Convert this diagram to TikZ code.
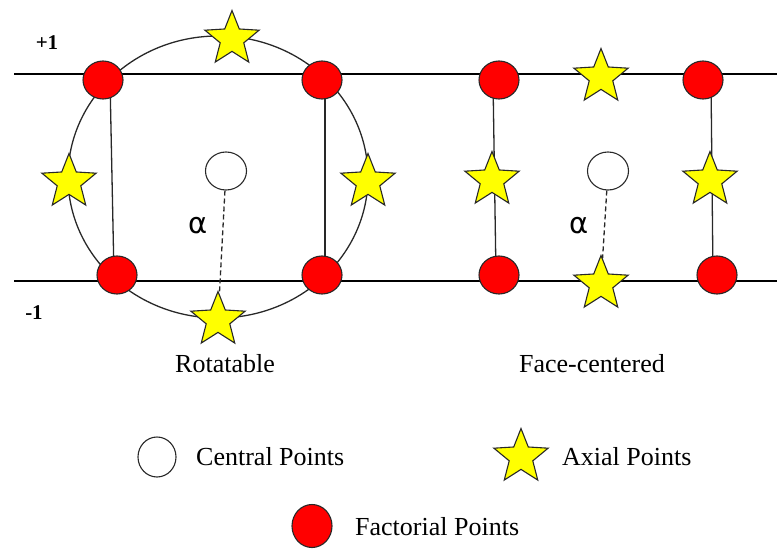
\documentclass[tikz,border=0pt]{standalone}
\usepackage{fontspec}
\setmainfont{Liberation Serif}
\newfontfamily\dejavu{DejaVu Sans}
\usetikzlibrary{shapes.geometric}
\definecolor{fred}{RGB}{255,0,0}
\definecolor{ayellow}{RGB}{255,255,0}
\definecolor{edge}{RGB}{40,40,40}
\tikzset{
  factorial/.style={ellipse,draw=edge,line width=1.1pt,fill=fred,minimum width=40pt,minimum height=38pt,inner sep=0pt},
  central/.style={ellipse,draw=edge,line width=1.1pt,fill=white,minimum width=41pt,minimum height=38pt,inner sep=0pt},
  axial/.style={star,star points=5,star point ratio=2.3,draw=edge,line width=1.1pt,fill=ayellow,minimum size=57pt,inner sep=0pt},
  axisline/.style={draw=black,line width=1.4pt},
  connector/.style={draw=edge,line width=1.3pt},
  alphaline/.style={draw=edge,line width=1.3pt,dashed,dash pattern=on 5pt off 3pt},
  lbl/.style={font=\fontsize{26}{30}\selectfont,inner sep=0pt},
  lvl/.style={font=\bfseries\fontsize{21}{25}\selectfont,inner sep=0pt},
  alpha/.style={font=\dejavu\fontsize{29}{33}\selectfont,inner sep=0pt}
}
\begin{document}
\begin{tikzpicture}[x=1pt,y=-1pt]
\useasboundingbox (0,0) rectangle (777,551);
% level lines
\coordinate (topL) at (14,74);
\coordinate (topR) at (777,74);
\coordinate (botL) at (14,281);
\coordinate (botR) at (777,281);
\draw[axisline] (topL) -- (topR);
\draw[axisline] (botL) -- (botR);
\node[lvl] (plus) at (47,43) {+1};
\node[lvl] (minus) at (34,313) {-1};
% rotatable circle
\draw[connector] (218,177) ellipse [x radius=150pt, y radius=141pt];
% vertical connectors (drawn behind points)
\coordinate (v1a) at (110,80); \coordinate (v1b) at (114,275);
\coordinate (v2a) at (325,80); \coordinate (v2b) at (325,275);
\coordinate (v3a) at (493,80); \coordinate (v3b) at (496,275);
\coordinate (v4a) at (711,80); \coordinate (v4b) at (713,275);
\draw[connector] (v1a) -- (v1b);
\draw[connector] (v2a) -- (v2b);
\draw[connector] (v3a) -- (v3b);
\draw[connector] (v4a) -- (v4b);
% rotatable points
\node[factorial] (f1) at (103,80) {};
\node[factorial] (f2) at (322,80) {};
\node[factorial] (f3) at (117,275) {};
\node[factorial] (f4) at (322,275) {};
\node[axial] (s1) at (232,39) {};
\node[axial] (s2) at (69,182) {};
\node[axial] (s3) at (368,182) {};
\node[axial] (s4) at (218,320) {};
\node[central] (c1) at (226,171) {};
\draw[alphaline] (c1) -- (s4);
\node[alpha] (a1) at (198,226) {α};
\node[lbl] (rot) at (225,364) {Rotatable};
% face-centered points
\node[factorial] (g1) at (499,80) {};
\node[factorial] (g2) at (703,80) {};
\node[factorial] (g3) at (499,275) {};
\node[factorial] (g4) at (717,275) {};
\node[axial] (t1) at (601,77) {};
\node[axial] (t2) at (492,180) {};
\node[axial] (t3) at (710,180) {};
\node[axial] (t4) at (601,284) {};
\node[central] (c2) at (608,171) {};
\draw[alphaline] (c2) -- (t4);
\node[alpha] (a2) at (579,226) {α};
\node[lbl] (fc) at (592,364) {Face-centered};
% legend
\node[central,minimum width=38pt,minimum height=40pt] (lc) at (157,457) {};
\node[lbl,anchor=west] (lct) at (196,457) {Central Points};
\node[axial] (la) at (521,457) {};
\node[lbl,anchor=west] (lat) at (562,457) {Axial Points};
\node[factorial,minimum width=40pt,minimum height=43pt] (lf) at (312,526) {};
\node[lbl,anchor=west] (lft) at (355,527) {Factorial Points};
\end{tikzpicture}
\end{document}
